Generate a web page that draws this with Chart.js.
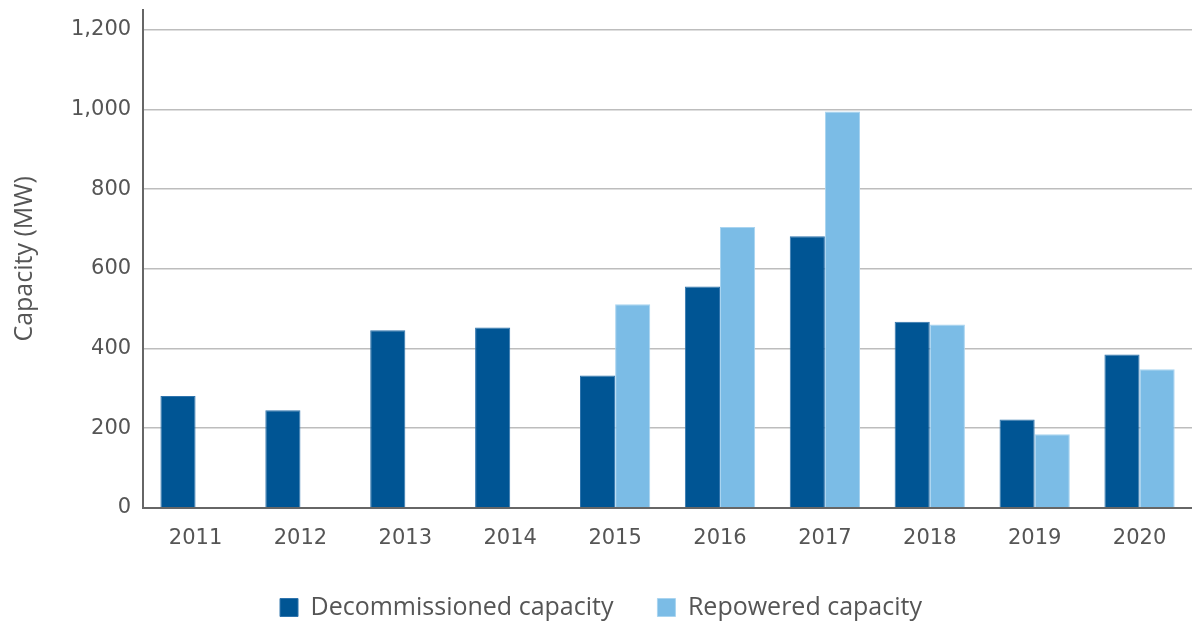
<!DOCTYPE html>
<html>
<head>
<meta charset="utf-8">
<script src="https://cdn.jsdelivr.net/npm/chart.js@4"></script>
<style>
  html, body { margin: 0; padding: 0; background: #fff; }
  #wrap { width: 1192px; height: 622px; position: relative; }
</style>
</head>
<body>
<div id="wrap"><canvas id="chart"></canvas></div>
<script>
// capacity by year, MW
const years = ['2011', '2012', '2013', '2014', '2015', '2016', '2017', '2018', '2019', '2020'];
const decommissioned = [281, 245, 446, 453, 332, 556, 682, 467, 222, 385];
const repowered = [null, null, null, null, 511, 705, 995, 460, 185, 348];
const yTicks = [0, 200, 400, 600, 800, 1000, 1200];

const tickFont = { family: 'DejaVu Sans', size: 21 };

new Chart(document.getElementById('chart'), {
  type: 'bar',
  data: {
    labels: years,
    datasets: [
      {
        label: 'Decommissioned capacity',
        data: decommissioned,
        backgroundColor: '#005594',
        borderColor: '#2f74ad',
        borderWidth: 1,
      },
      {
        label: 'Repowered capacity',
        data: repowered,
        backgroundColor: '#7bbce6',
        borderColor: '#a9d4f0',
        borderWidth: 1,
      }
    ]
  },
  options: {
    responsive: true,
    maintainAspectRatio: false,
    animation: false,
    layout: { padding: { top: 10, right: 0, left: 10, bottom: -8 } },
    datasets: {
      bar: { categoryPercentage: 0.67, barPercentage: 1.0 }
    },
    plugins: {
      legend: {
        position: 'bottom',
        labels: {
          color: '#555',
          font: { family: 'Open Sans', size: 25 },
          boxWidth: 18,
          boxHeight: 18,
          padding: 44,
        }
      },
      tooltip: { enabled: false }
    },
    scales: {
      x: {
        grid: { display: false, drawTicks: false },
        border: { color: '#666', width: 2 },
        ticks: { color: '#555', font: tickFont, padding: 18 },
        // chart.js pads below the labels too; the legend padding covers that gap
        afterFit: scale => { scale.height -= 18; },
      },
      y: {
        min: 0,
        max: 1250,
        afterBuildTicks: axis => { axis.ticks = yTicks.map(v => ({ value: v })); },
        afterFit: scale => { scale.paddingTop = 0; },
        grid: { color: '#bdbdbd', lineWidth: 1.5, drawTicks: false },
        border: { color: '#666', width: 2 },
        ticks: {
          color: '#555',
          font: tickFont,
          padding: 12,
          callback: v => v.toLocaleString('en-US'),
        },
        title: {
          display: true,
          text: 'Capacity (MW)',
          color: '#555',
          font: { family: 'Open Sans', size: 25 },
          padding: { top: 0, bottom: 19 },
        }
      }
    }
  }
});
</script>
</body>
</html>
